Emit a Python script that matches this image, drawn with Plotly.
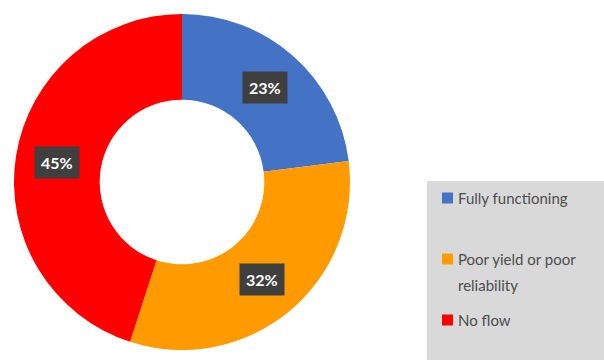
import math
import plotly.graph_objects as go

labels = ["Fully functioning", "Poor yield or poor<br>reliability", "No flow"]
values = [23, 32, 45]
colors = ["#4472C4", "#FF9A00", "#FF0000"]

W, H = 604, 360
cx, cy, R = 182, 182, 168   # pie centre / radius in px
hole = 0.49

fig = go.Figure()
fig.add_trace(go.Pie(
    labels=labels, values=values, sort=False, direction="clockwise", rotation=0,
    hole=hole, marker=dict(colors=colors, line=dict(width=0)),
    textinfo="none", hoverinfo="label+percent", showlegend=False,
    domain=dict(x=[(cx - R) / W, (cx + R) / W], y=[1 - (cy + R) / H, 1 - (cy - R) / H]),
))

# percentage labels on dark boxes, placed at mid-angle of each slice
total = sum(values)
acc = 0
rmid = R * (1 + hole) / 2 + 1
for v in values:
    mid = (acc + v / 2) / total * 2 * math.pi
    acc += v
    px = cx + rmid * math.sin(mid)
    py = cy - rmid * math.cos(mid)
    fig.add_annotation(
        x=px / W, y=1 - py / H, xref="paper", yref="paper", xanchor="center", yanchor="middle",
        text="<b>%d%%</b>" % round(v / total * 100), showarrow=False,
        font=dict(family="Lato, Open Sans, sans-serif", size=16, color="white"),
        bgcolor="#3F3F3F", borderpad=6,
    )

# legend panel (drawn by hand to match the wide row spacing)
LEG_X0, LEG_Y0 = 427, 181
row_y = [198, 259, 320]
line_gap = 26
sq = 11
fig.add_shape(type="rect", xref="paper", yref="paper", x0=LEG_X0 / W, x1=1.01, y0=-0.01, y1=1 - LEG_Y0 / H,
              fillcolor="#D9D9D9", line=dict(width=0), layer="below")
for lab, col, ry in zip(labels, colors, row_y):
    fig.add_shape(type="rect", xref="paper", yref="paper",
                  x0=442 / W, x1=(442 + sq) / W, y0=1 - (ry + sq / 2) / H, y1=1 - (ry - sq / 2) / H,
                  fillcolor=col, line=dict(width=0))
    for i, line in enumerate(lab.split("<br>")):
        fig.add_annotation(
            x=456 / W, y=1 - (ry + i * line_gap) / H, xref="paper", yref="paper",
            xanchor="left", yanchor="middle", text=line, showarrow=False,
            font=dict(family="Lato, Open Sans, sans-serif", size=15, color="#4D4D4D"),
        )

fig.update_layout(
    width=W, height=H, margin=dict(l=0, r=0, t=0, b=0),
    paper_bgcolor="white", plot_bgcolor="white", showlegend=False,
)
fig.write_html("out.html")
